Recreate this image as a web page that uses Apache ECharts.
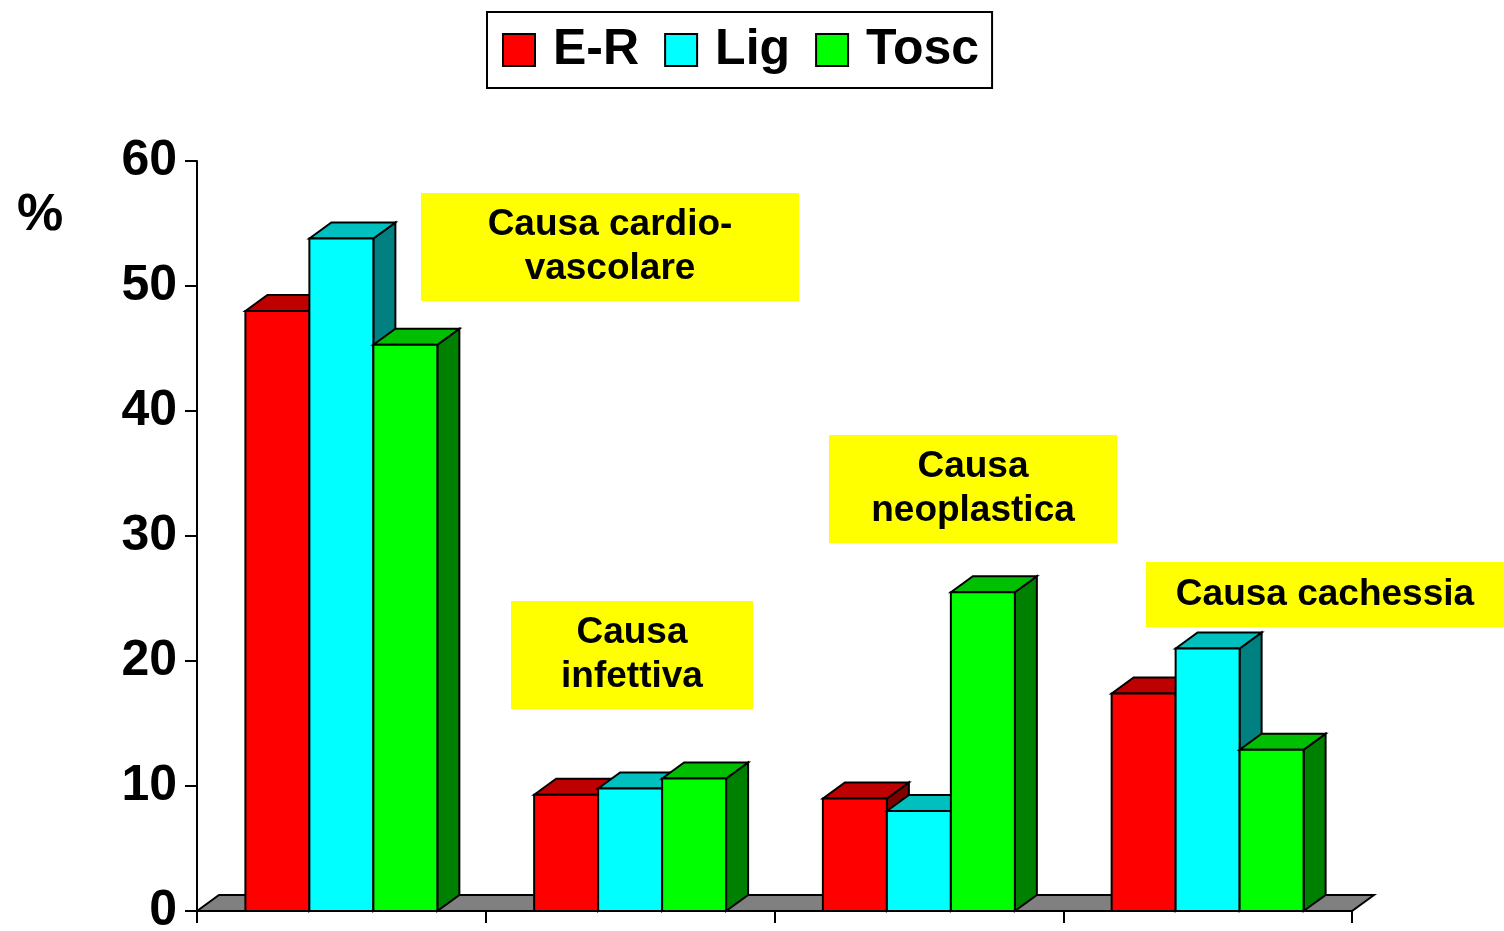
<!DOCTYPE html>
<html>
<head>
<meta charset="utf-8">
<title>Cause di morte</title>
<script src="https://cdn.jsdelivr.net/npm/echarts@6/dist/echarts.min.js"></script>
<style>
html,body{margin:0;padding:0;background:#fff;}
#main{width:1504px;height:931px;}
</style>
</head>
<body>
<div id="main"></div>
<script>
// dati
var categories = ["Causa cardio-vascolare", "Causa infettiva", "Causa neoplastica", "Causa cachessia"];
var seriesNames = ["E-R", "Lig", "Tosc"];
var erValues = [48, 9.3, 9, 17.4];
var ligValues = [53.8, 9.8, 8, 21];
var toscValues = [45.3, 10.6, 25.5, 12.9];
var yTicks = [0, 10, 20, 30, 40, 50, 60];
var causeLabels = ["Causa cardio-\nvascolare", "Causa\ninfettiva", "Causa\nneoplastica", "Causa cachessia"];

var fontName = '"Liberation Sans", Arial, sans-serif';
var depthX = 22;
var depthY = 16;

function face(points, color){
	return {
		type: 'polygon',
		shape: { points: points },
		style: { fill: color, stroke: '#000', lineWidth: 2, lineJoin: 'miter' }
	};
}

// barra 3D: facciata, lato destro e tetto
function barRenderer(index, front, top, side){
	return function(params, api){
		var base = api.coord([api.value(0), 0]);
		var head = api.coord([api.value(0), api.value(1)]);
		var w = api.size([1, 0])[0] * 0.2216;
		var x0 = base[0] + (index - 1.5) * w;
		var x1 = x0 + w;
		return {
			type: 'group',
			children: [
				face([[x1, base[1]], [x1 + depthX, base[1] - depthY], [x1 + depthX, head[1] - depthY], [x1, head[1]]], side),
				face([[x0, head[1]], [x0 + depthX, head[1] - depthY], [x1 + depthX, head[1] - depthY], [x1, head[1]]], top),
				face([[x0, base[1]], [x1, base[1]], [x1, head[1]], [x0, head[1]]], front)
			]
		};
	};
}

function floorRenderer(params){
	var c = params.coordSys;
	var y = c.y + c.height;
	return face([[c.x, y], [c.x + depthX, y - depthY], [c.x + c.width + depthX, y - depthY], [c.x + c.width, y]], '#808080');
}

function toData(values){
	var out = [];
	for(var i = 0; i < values.length; i++){
		out.push([i, values[i]]);
	}
	return out;
}

function barSeries(index, values, front, top, side){
	return {
		name: seriesNames[index],
		type: 'custom',
		coordinateSystem: 'cartesian2d',
		renderItem: barRenderer(index, front, top, side),
		encode: { x: 0, y: 1 },
		data: toData(values),
		itemStyle: { color: front },
		clip: false,
		silent: true,
		z: 3
	};
}

// riquadri gialli
function noteBox(text, x, y, w, h){
	return {
		type: 'group',
		left: x,
		top: y,
		z: 10,
		children: [
			{
				type: 'rect',
				shape: { x: 0, y: 0, width: w, height: h },
				style: { fill: '#ffff00' },
				z: 10
			},
			{
				type: 'text',
				x: w / 2,
				y: h / 2,
				style: { text: text, font: 'bold 37px ' + fontName, fill: '#000', align: 'center', verticalAlign: 'middle', lineHeight: 44 },
				z: 11
			}
		]
	};
}

var chart = echarts.init(document.getElementById('main'));
var option = {
	animation: false,
	backgroundColor: '#fff',
	legend: {
		data: seriesNames,
		left: 487,
		top: 12,
		orient: 'horizontal',
		icon: 'rect',
		itemWidth: 32,
		itemHeight: 32,
		itemGap: 25,
		padding: [13, 13, 13, 15],
		borderColor: '#000',
		borderWidth: 2,
		backgroundColor: '#fff',
		itemStyle: { borderColor: '#000', borderWidth: 2 },
		textStyle: { color: '#000', fontFamily: fontName, fontWeight: 'bold', fontSize: 50, padding: [0, 0, 0, 13] },
		selectedMode: false
	},
	grid: { left: 197, right: 152, top: 161, bottom: 20, outerBoundsMode: 'none' },
	xAxis: {
		type: 'category',
		data: categories,
		axisLine: { lineStyle: { color: '#000', width: 2 } },
		axisTick: { show: true, length: 12, lineStyle: { color: '#000', width: 2 } },
		axisLabel: { show: false }
	},
	yAxis: {
		type: 'value',
		min: yTicks[0],
		max: yTicks[yTicks.length - 1],
		interval: 10,
		splitLine: { show: false },
		axisLine: { show: true, lineStyle: { color: '#000', width: 2 } },
		axisTick: { show: true, length: 12, lineStyle: { color: '#000', width: 2 } },
		axisLabel: { color: '#000', fontFamily: fontName, fontWeight: 'bold', fontSize: 50, margin: 20 }
	},
	graphic: [
		{ type: 'text', left: 17, top: 190, style: { text: '%', font: 'bold 52px ' + fontName, fill: '#000' } },
		noteBox(causeLabels[0], 421, 193, 378, 108),
		noteBox(causeLabels[1], 511, 601, 242, 108),
		noteBox(causeLabels[2], 829, 435, 288, 108),
		noteBox(causeLabels[3], 1146, 562, 358, 65)
	],
	series: [
		{
			type: 'custom',
			coordinateSystem: 'cartesian2d',
			renderItem: floorRenderer,
			data: [[0, 0]],
			encode: { x: 0, y: 1 },
			clip: false,
			silent: true,
			z: 1
		},
		barSeries(0, erValues, '#ff0000', '#bf0000', '#800000'),
		barSeries(1, ligValues, '#00ffff', '#00bfbf', '#008080'),
		barSeries(2, toscValues, '#00ff00', '#00bf00', '#008000')
	]
};
chart.setOption(option);
</script>
</body>
</html>
